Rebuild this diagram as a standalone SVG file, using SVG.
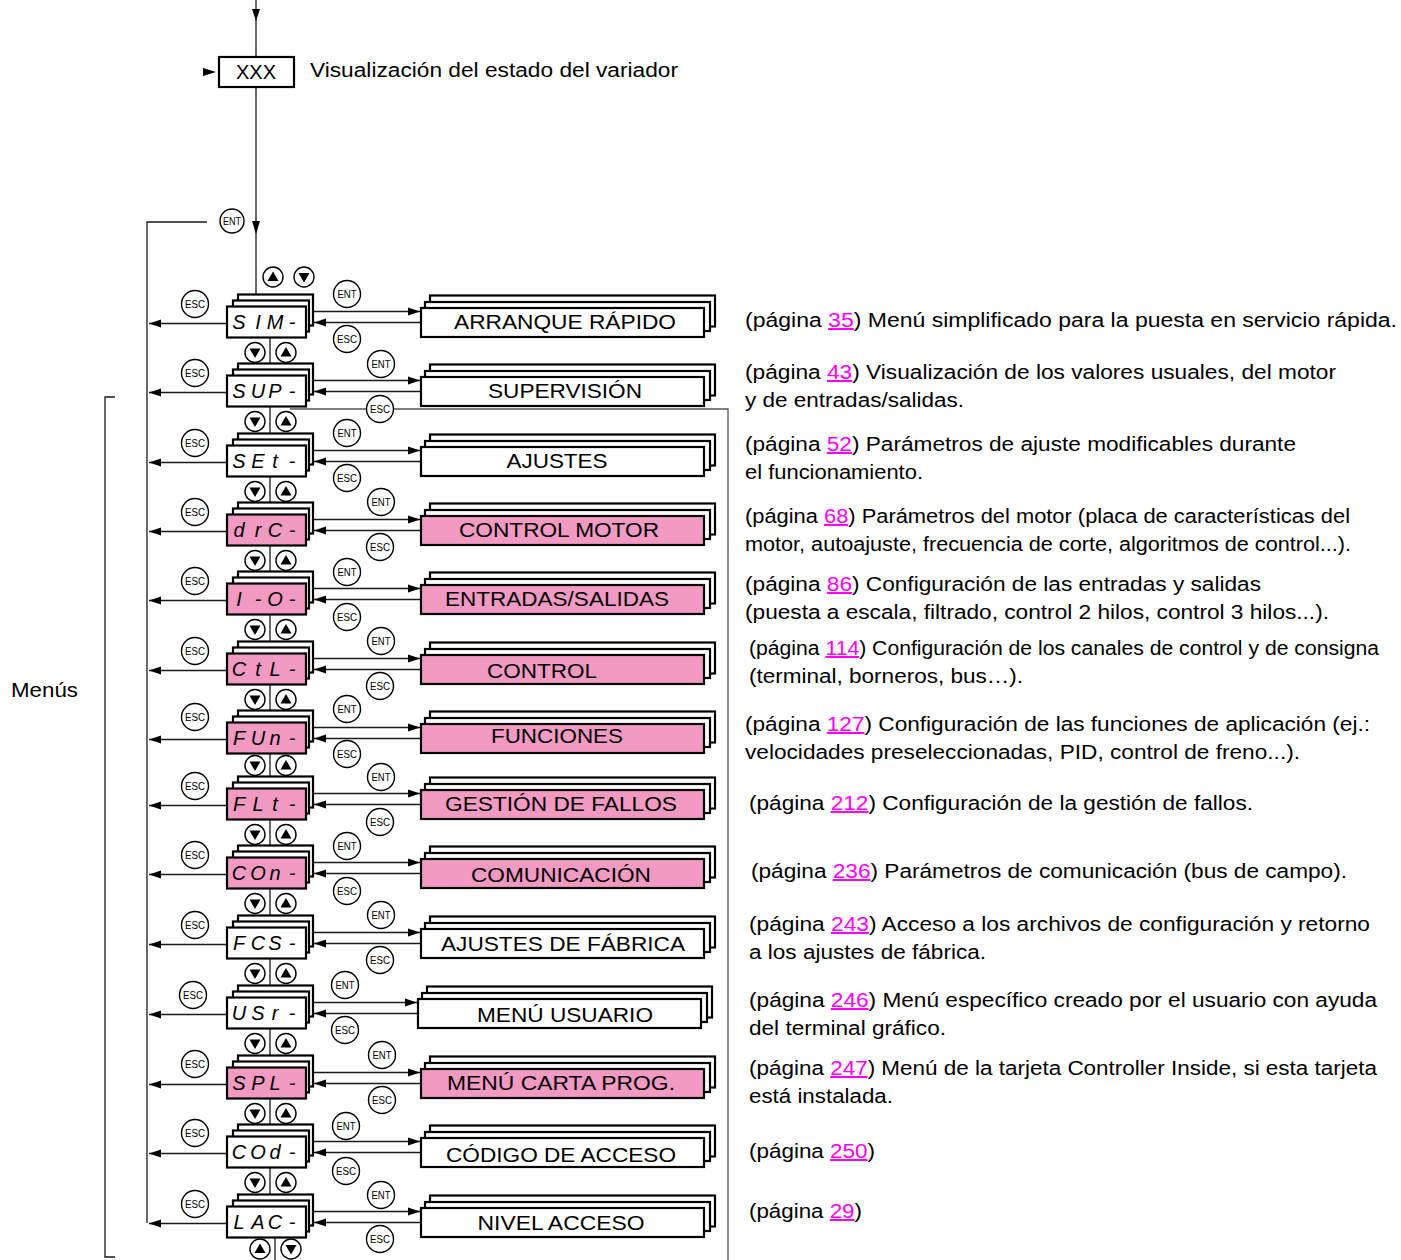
<svg xmlns="http://www.w3.org/2000/svg" width="1401" height="1260" viewBox="0 0 1401 1260">
<style>
.bx{fill:#fff;stroke:#000;stroke-width:2.2}
.pk{fill:#F39AC2;stroke:#000;stroke-width:2.2}
.ln{fill:none;stroke:#1a1a1a;stroke-width:1.3}
.lg{fill:none;stroke:#555;stroke-width:1.3}
.bt{fill:#fff;stroke:#000;stroke-width:1.4}
.bl{font-family:"Liberation Sans",Arial,sans-serif;font-size:10.5px;text-anchor:middle}
.seg{font-family:"Liberation Sans",Arial,sans-serif;font-style:italic;font-size:20px;text-anchor:middle}
.mn{font-family:"Liberation Sans",Arial,sans-serif;font-size:21px;text-anchor:middle}
.tx{font-family:"Liberation Sans",Arial,sans-serif;font-size:20px}
.lk{fill:#f0f;text-decoration:underline}
</style>
<defs>
<marker id="ah" markerUnits="userSpaceOnUse" markerWidth="13" markerHeight="10" refX="12" refY="4.5" orient="auto"><path d="M0,0.5 L12,4.5 L0,8.5 z" fill="#000"/></marker>
<g id="up"><circle r="10" class="bt"/><path d="M0,-5.5 L-5.5,4 L5.5,4 z"/></g>
<g id="dn"><circle r="10" class="bt"/><path d="M0,5.5 L-5.5,-4 L5.5,-4 z"/></g>
</defs>

<g id="connectors">
<path class="ln" d="M256,0 V57 M256,87 V294.5"/>
<path d="M252,9 L260,9 L256,21 z"/>
<path d="M203,68 L216,72 L203,76 z"/>
<path d="M252,221 L260,221 L256,234 z"/>
<path class="ln" d="M207,222 H147 V1223"/>
<path class="lg" d="M290,409 H728 V1260"/>
<path class="ln" d="M115,397 H105 V1257 H115"/>
<path class="ln" d="M270,337.5V363.5 M270,406.5V433.5 M270,476.5V502.5 M270,545.5V571.5 M270,614.5V641.5 M270,684.5V710.5 M270,753.5V776.5 M270,819.5V845.5 M270,888.5V915.5 M270,958.5V985.5 M270,1028.5V1055.5 M270,1098.5V1124.5 M270,1167.5V1194.5 M275,1237.5V1260"/>
<g class="ln" marker-end="url(#ah)">
<line x1="313" y1="311.5" x2="420" y2="311.5"/><line x1="421" y1="322.5" x2="314" y2="322.5"/><line x1="227" y1="323.5" x2="149" y2="323.5"/>
<line x1="313" y1="380.5" x2="420" y2="380.5"/><line x1="421" y1="391.5" x2="314" y2="391.5"/><line x1="227" y1="392.5" x2="149" y2="392.5"/>
<line x1="313" y1="450.5" x2="420" y2="450.5"/><line x1="421" y1="461.5" x2="314" y2="461.5"/><line x1="227" y1="462.5" x2="149" y2="462.5"/>
<line x1="313" y1="519.5" x2="420" y2="519.5"/><line x1="421" y1="530.5" x2="314" y2="530.5"/><line x1="227" y1="531.5" x2="149" y2="531.5"/>
<line x1="313" y1="588.5" x2="420" y2="588.5"/><line x1="421" y1="599.5" x2="314" y2="599.5"/><line x1="227" y1="600.5" x2="149" y2="600.5"/>
<line x1="313" y1="658.5" x2="420" y2="658.5"/><line x1="421" y1="669.5" x2="314" y2="669.5"/><line x1="227" y1="670.5" x2="149" y2="670.5"/>
<line x1="313" y1="727.5" x2="420" y2="727.5"/><line x1="421" y1="738.5" x2="314" y2="738.5"/><line x1="227" y1="739.5" x2="149" y2="739.5"/>
<line x1="313" y1="793.5" x2="420" y2="793.5"/><line x1="421" y1="804.5" x2="314" y2="804.5"/><line x1="227" y1="805.5" x2="149" y2="805.5"/>
<line x1="313" y1="862.5" x2="420" y2="862.5"/><line x1="421" y1="873.5" x2="314" y2="873.5"/><line x1="227" y1="874.5" x2="149" y2="874.5"/>
<line x1="313" y1="932.5" x2="420" y2="932.5"/><line x1="421" y1="943.5" x2="314" y2="943.5"/><line x1="227" y1="944.5" x2="149" y2="944.5"/>
<line x1="313" y1="1002.5" x2="417" y2="1002.5"/><line x1="418" y1="1013.5" x2="314" y2="1013.5"/><line x1="227" y1="1014.5" x2="149" y2="1014.5"/>
<line x1="313" y1="1072.5" x2="420" y2="1072.5"/><line x1="421" y1="1083.5" x2="314" y2="1083.5"/><line x1="227" y1="1084.5" x2="149" y2="1084.5"/>
<line x1="313" y1="1141.5" x2="420" y2="1141.5"/><line x1="421" y1="1152.5" x2="314" y2="1152.5"/><line x1="227" y1="1153.5" x2="149" y2="1153.5"/>
<line x1="313" y1="1211.5" x2="420" y2="1211.5"/><line x1="421" y1="1222.5" x2="314" y2="1222.5"/><line x1="227" y1="1223.5" x2="149" y2="1223.5"/>
</g>
</g>

<g id="buttons">
<circle cx="232" cy="221" r="12" class="bt"/><text x="232" y="224.5" class="bl" textLength="18" lengthAdjust="spacingAndGlyphs">ENT</text>
<use href="#up" x="273" y="277"/><use href="#dn" x="304" y="277"/>
<use href="#dn" x="255" y="352.5"/><use href="#up" x="286" y="352.5"/>
<use href="#dn" x="255" y="421.5"/><use href="#up" x="286" y="421.5"/>
<use href="#dn" x="255" y="491.5"/><use href="#up" x="286" y="491.5"/>
<use href="#dn" x="255" y="560.5"/><use href="#up" x="286" y="560.5"/>
<use href="#dn" x="255" y="629.5"/><use href="#up" x="286" y="629.5"/>
<use href="#dn" x="255" y="699.5"/><use href="#up" x="286" y="699.5"/>
<use href="#dn" x="255" y="765.5"/><use href="#up" x="286" y="765.5"/>
<use href="#dn" x="255" y="834.5"/><use href="#up" x="286" y="834.5"/>
<use href="#dn" x="255" y="903.5"/><use href="#up" x="286" y="903.5"/>
<use href="#dn" x="255" y="973.5"/><use href="#up" x="286" y="973.5"/>
<use href="#dn" x="255" y="1043.5"/><use href="#up" x="286" y="1043.5"/>
<use href="#dn" x="255" y="1113.5"/><use href="#up" x="286" y="1113.5"/>
<use href="#dn" x="255" y="1182.5"/><use href="#up" x="286" y="1182.5"/>
<use href="#up" x="260" y="1249"/><use href="#dn" x="291" y="1249"/>
<g id="esc-left">
<circle cx="195" cy="304" r="13.5" class="bt"/><text x="195" y="307.5" class="bl" textLength="20" lengthAdjust="spacingAndGlyphs">ESC</text>
<circle cx="195" cy="373" r="13.5" class="bt"/><text x="195" y="376.5" class="bl" textLength="20" lengthAdjust="spacingAndGlyphs">ESC</text>
<circle cx="195" cy="443" r="13.5" class="bt"/><text x="195" y="446.5" class="bl" textLength="20" lengthAdjust="spacingAndGlyphs">ESC</text>
<circle cx="195" cy="512" r="13.5" class="bt"/><text x="195" y="515.5" class="bl" textLength="20" lengthAdjust="spacingAndGlyphs">ESC</text>
<circle cx="195" cy="581" r="13.5" class="bt"/><text x="195" y="584.5" class="bl" textLength="20" lengthAdjust="spacingAndGlyphs">ESC</text>
<circle cx="195" cy="651" r="13.5" class="bt"/><text x="195" y="654.5" class="bl" textLength="20" lengthAdjust="spacingAndGlyphs">ESC</text>
<circle cx="195" cy="717" r="13.5" class="bt"/><text x="195" y="720.5" class="bl" textLength="20" lengthAdjust="spacingAndGlyphs">ESC</text>
<circle cx="195" cy="786" r="13.5" class="bt"/><text x="195" y="789.5" class="bl" textLength="20" lengthAdjust="spacingAndGlyphs">ESC</text>
<circle cx="195" cy="855" r="13.5" class="bt"/><text x="195" y="858.5" class="bl" textLength="20" lengthAdjust="spacingAndGlyphs">ESC</text>
<circle cx="195" cy="925" r="13.5" class="bt"/><text x="195" y="928.5" class="bl" textLength="20" lengthAdjust="spacingAndGlyphs">ESC</text>
<circle cx="193" cy="995" r="13.5" class="bt"/><text x="193" y="998.5" class="bl" textLength="20" lengthAdjust="spacingAndGlyphs">ESC</text>
<circle cx="195" cy="1064" r="13.5" class="bt"/><text x="195" y="1067.5" class="bl" textLength="20" lengthAdjust="spacingAndGlyphs">ESC</text>
<circle cx="195" cy="1133" r="13.5" class="bt"/><text x="195" y="1136.5" class="bl" textLength="20" lengthAdjust="spacingAndGlyphs">ESC</text>
<circle cx="195" cy="1204" r="13.5" class="bt"/><text x="195" y="1207.5" class="bl" textLength="20" lengthAdjust="spacingAndGlyphs">ESC</text>
</g>
<g id="ent-esc-right">
<circle cx="347" cy="294" r="13.5" class="bt"/><text x="347" y="297.5" class="bl" textLength="19" lengthAdjust="spacingAndGlyphs">ENT</text><circle cx="347" cy="339" r="13.5" class="bt"/><text x="347" y="342.5" class="bl" textLength="20" lengthAdjust="spacingAndGlyphs">ESC</text>
<circle cx="381" cy="364" r="13.5" class="bt"/><text x="381" y="367.5" class="bl" textLength="19" lengthAdjust="spacingAndGlyphs">ENT</text><circle cx="380" cy="409" r="13.5" class="bt"/><text x="380" y="412.5" class="bl" textLength="20" lengthAdjust="spacingAndGlyphs">ESC</text>
<circle cx="347" cy="433" r="13.5" class="bt"/><text x="347" y="436.5" class="bl" textLength="19" lengthAdjust="spacingAndGlyphs">ENT</text><circle cx="347" cy="478" r="13.5" class="bt"/><text x="347" y="481.5" class="bl" textLength="20" lengthAdjust="spacingAndGlyphs">ESC</text>
<circle cx="381" cy="502" r="13.5" class="bt"/><text x="381" y="505.5" class="bl" textLength="19" lengthAdjust="spacingAndGlyphs">ENT</text><circle cx="380" cy="547" r="13.5" class="bt"/><text x="380" y="550.5" class="bl" textLength="20" lengthAdjust="spacingAndGlyphs">ESC</text>
<circle cx="347" cy="572" r="13.5" class="bt"/><text x="347" y="575.5" class="bl" textLength="19" lengthAdjust="spacingAndGlyphs">ENT</text><circle cx="347" cy="617" r="13.5" class="bt"/><text x="347" y="620.5" class="bl" textLength="20" lengthAdjust="spacingAndGlyphs">ESC</text>
<circle cx="381" cy="641" r="13.5" class="bt"/><text x="381" y="644.5" class="bl" textLength="19" lengthAdjust="spacingAndGlyphs">ENT</text><circle cx="380" cy="686" r="13.5" class="bt"/><text x="380" y="689.5" class="bl" textLength="20" lengthAdjust="spacingAndGlyphs">ESC</text>
<circle cx="347" cy="709" r="13.5" class="bt"/><text x="347" y="712.5" class="bl" textLength="19" lengthAdjust="spacingAndGlyphs">ENT</text><circle cx="347" cy="754" r="13.5" class="bt"/><text x="347" y="757.5" class="bl" textLength="20" lengthAdjust="spacingAndGlyphs">ESC</text>
<circle cx="381" cy="777" r="13.5" class="bt"/><text x="381" y="780.5" class="bl" textLength="19" lengthAdjust="spacingAndGlyphs">ENT</text><circle cx="380" cy="822" r="13.5" class="bt"/><text x="380" y="825.5" class="bl" textLength="20" lengthAdjust="spacingAndGlyphs">ESC</text>
<circle cx="347" cy="846" r="13.5" class="bt"/><text x="347" y="849.5" class="bl" textLength="19" lengthAdjust="spacingAndGlyphs">ENT</text><circle cx="347" cy="891" r="13.5" class="bt"/><text x="347" y="894.5" class="bl" textLength="20" lengthAdjust="spacingAndGlyphs">ESC</text>
<circle cx="381" cy="915" r="13.5" class="bt"/><text x="381" y="918.5" class="bl" textLength="19" lengthAdjust="spacingAndGlyphs">ENT</text><circle cx="380" cy="960" r="13.5" class="bt"/><text x="380" y="963.5" class="bl" textLength="20" lengthAdjust="spacingAndGlyphs">ESC</text>
<circle cx="345" cy="985" r="13.5" class="bt"/><text x="345" y="988.5" class="bl" textLength="19" lengthAdjust="spacingAndGlyphs">ENT</text><circle cx="345" cy="1030" r="13.5" class="bt"/><text x="345" y="1033.5" class="bl" textLength="20" lengthAdjust="spacingAndGlyphs">ESC</text>
<circle cx="382" cy="1055" r="13.5" class="bt"/><text x="382" y="1058.5" class="bl" textLength="19" lengthAdjust="spacingAndGlyphs">ENT</text><circle cx="382" cy="1100" r="13.5" class="bt"/><text x="382" y="1103.5" class="bl" textLength="20" lengthAdjust="spacingAndGlyphs">ESC</text>
<circle cx="346" cy="1126" r="13.5" class="bt"/><text x="346" y="1129.5" class="bl" textLength="19" lengthAdjust="spacingAndGlyphs">ENT</text><circle cx="346" cy="1171" r="13.5" class="bt"/><text x="346" y="1174.5" class="bl" textLength="20" lengthAdjust="spacingAndGlyphs">ESC</text>
<circle cx="381" cy="1195" r="13.5" class="bt"/><text x="381" y="1198.5" class="bl" textLength="19" lengthAdjust="spacingAndGlyphs">ENT</text><circle cx="380" cy="1239" r="13.5" class="bt"/><text x="380" y="1242.5" class="bl" textLength="20" lengthAdjust="spacingAndGlyphs">ESC</text>
</g>
</g>

<g id="xxx"><rect x="219" y="57" width="75" height="30" class="bx"/><text x="256" y="79" class="tx" text-anchor="middle">XXX</text></g>
<text x="310" y="77" class="tx" textLength="368" lengthAdjust="spacingAndGlyphs">Visualización del estado del variador</text>
<text x="11" y="697" class="tx" textLength="67" lengthAdjust="spacingAndGlyphs">Menús</text>

<g id="d1"><rect x="238" y="294.5" width="75" height="31" class="bx"/><rect x="233" y="300.5" width="76" height="31" class="bx"/><rect x="227" y="306.5" width="79" height="31" class="bx"/><text x="239 258 275 292" y="329" class="seg">SIM-</text></g>
<g id="d2"><rect x="238" y="363.5" width="75" height="31" class="bx"/><rect x="233" y="369.5" width="76" height="31" class="bx"/><rect x="227" y="375.5" width="79" height="31" class="bx"/><text x="239 258 275 292" y="398" class="seg">SUP-</text></g>
<g id="d3"><rect x="238" y="433.5" width="75" height="31" class="bx"/><rect x="233" y="439.5" width="76" height="31" class="bx"/><rect x="227" y="445.5" width="79" height="31" class="bx"/><text x="239 258 275 292" y="468" class="seg">SEt-</text></g>
<g id="d4"><rect x="238" y="502.5" width="75" height="31" class="bx"/><rect x="233" y="508.5" width="76" height="31" class="bx"/><rect x="227" y="514.5" width="79" height="31" class="pk"/><text x="239 258 275 292" y="537" class="seg">drC-</text></g>
<g id="d5"><rect x="238" y="571.5" width="75" height="31" class="bx"/><rect x="233" y="577.5" width="76" height="31" class="bx"/><rect x="227" y="583.5" width="79" height="31" class="pk"/><text x="239 258 275 292" y="606" class="seg">I-O-</text></g>
<g id="d6"><rect x="238" y="641.5" width="75" height="31" class="bx"/><rect x="233" y="647.5" width="76" height="31" class="bx"/><rect x="227" y="653.5" width="79" height="31" class="pk"/><text x="239 258 275 292" y="676" class="seg">CtL-</text></g>
<g id="d7"><rect x="238" y="710.5" width="75" height="31" class="bx"/><rect x="233" y="716.5" width="76" height="31" class="bx"/><rect x="227" y="722.5" width="79" height="31" class="pk"/><text x="239 258 275 292" y="745" class="seg">FUn-</text></g>
<g id="d8"><rect x="238" y="776.5" width="75" height="31" class="bx"/><rect x="233" y="782.5" width="76" height="31" class="bx"/><rect x="227" y="788.5" width="79" height="31" class="pk"/><text x="239 258 275 292" y="811" class="seg">FLt-</text></g>
<g id="d9"><rect x="238" y="845.5" width="75" height="31" class="bx"/><rect x="233" y="851.5" width="76" height="31" class="bx"/><rect x="227" y="857.5" width="79" height="31" class="pk"/><text x="239 258 275 292" y="880" class="seg">COn-</text></g>
<g id="d10"><rect x="238" y="915.5" width="75" height="31" class="bx"/><rect x="233" y="921.5" width="76" height="31" class="bx"/><rect x="227" y="927.5" width="79" height="31" class="bx"/><text x="239 258 275 292" y="950" class="seg">FCS-</text></g>
<g id="d11"><rect x="238" y="985.5" width="75" height="31" class="bx"/><rect x="233" y="991.5" width="76" height="31" class="bx"/><rect x="227" y="997.5" width="79" height="31" class="bx"/><text x="239 258 275 292" y="1020" class="seg">USr-</text></g>
<g id="d12"><rect x="238" y="1055.5" width="75" height="31" class="bx"/><rect x="233" y="1061.5" width="76" height="31" class="bx"/><rect x="227" y="1067.5" width="79" height="31" class="pk"/><text x="239 258 275 292" y="1090" class="seg">SPL-</text></g>
<g id="d13"><rect x="238" y="1124.5" width="75" height="31" class="bx"/><rect x="233" y="1130.5" width="76" height="31" class="bx"/><rect x="227" y="1136.5" width="79" height="31" class="bx"/><text x="239 258 275 292" y="1159" class="seg">COd-</text></g>
<g id="d14"><rect x="238" y="1194.5" width="75" height="31" class="bx"/><rect x="233" y="1200.5" width="76" height="31" class="bx"/><rect x="227" y="1206.5" width="79" height="31" class="bx"/><text x="239 258 275 292" y="1229" class="seg">LAC-</text></g>

<g id="m1"><rect x="430" y="295.5" width="285" height="31" class="bx"/><rect x="425" y="302" width="285" height="29" class="bx"/><rect x="421" y="308" width="283" height="29" class="bx"/><text x="565" y="329" class="mn" textLength="222" lengthAdjust="spacingAndGlyphs">ARRANQUE RÁPIDO</text></g>
<g id="m2"><rect x="430" y="364.5" width="285" height="31" class="bx"/><rect x="425" y="371" width="285" height="29" class="bx"/><rect x="421" y="377" width="283" height="29" class="bx"/><text x="565" y="398" class="mn" textLength="154" lengthAdjust="spacingAndGlyphs">SUPERVISIÓN</text></g>
<g id="m3"><rect x="430" y="434.5" width="285" height="31" class="bx"/><rect x="425" y="441" width="285" height="29" class="bx"/><rect x="421" y="447" width="283" height="29" class="bx"/><text x="557" y="468" class="mn" textLength="101" lengthAdjust="spacingAndGlyphs">AJUSTES</text></g>
<g id="m4"><rect x="430" y="503.5" width="285" height="31" class="bx"/><rect x="425" y="510" width="285" height="29" class="bx"/><rect x="421" y="516" width="283" height="29" class="pk"/><text x="559" y="537" class="mn" textLength="200" lengthAdjust="spacingAndGlyphs">CONTROL MOTOR</text></g>
<g id="m5"><rect x="430" y="572.5" width="285" height="31" class="bx"/><rect x="425" y="579" width="285" height="29" class="bx"/><rect x="421" y="585" width="283" height="29" class="pk"/><text x="557" y="606" class="mn" textLength="224" lengthAdjust="spacingAndGlyphs">ENTRADAS/SALIDAS</text></g>
<g id="m6"><rect x="430" y="642.5" width="285" height="31" class="bx"/><rect x="425" y="649" width="285" height="29" class="bx"/><rect x="421" y="655" width="283" height="29" class="pk"/><text x="542" y="678" class="mn" textLength="110" lengthAdjust="spacingAndGlyphs">CONTROL</text></g>
<g id="m7"><rect x="430" y="711.5" width="285" height="31" class="bx"/><rect x="425" y="718" width="285" height="29" class="bx"/><rect x="421" y="724" width="283" height="29" class="pk"/><text x="557" y="743" class="mn" textLength="132" lengthAdjust="spacingAndGlyphs">FUNCIONES</text></g>
<g id="m8"><rect x="430" y="777.5" width="285" height="31" class="bx"/><rect x="425" y="784" width="285" height="29" class="bx"/><rect x="421" y="790" width="283" height="29" class="pk"/><text x="561" y="811" class="mn" textLength="232" lengthAdjust="spacingAndGlyphs">GESTIÓN DE FALLOS</text></g>
<g id="m9"><rect x="430" y="846.5" width="285" height="31" class="bx"/><rect x="425" y="853" width="285" height="29" class="bx"/><rect x="421" y="859" width="283" height="29" class="pk"/><text x="561" y="882" class="mn" textLength="180" lengthAdjust="spacingAndGlyphs">COMUNICACIÓN</text></g>
<g id="m10"><rect x="430" y="916.5" width="285" height="31" class="bx"/><rect x="425" y="923" width="285" height="29" class="bx"/><rect x="421" y="929" width="283" height="29" class="bx"/><text x="563" y="951" class="mn" textLength="244" lengthAdjust="spacingAndGlyphs">AJUSTES DE FÁBRICA</text></g>
<g id="m11"><rect x="427" y="986.5" width="285" height="31" class="bx"/><rect x="422" y="993" width="285" height="29" class="bx"/><rect x="418" y="999" width="283" height="29" class="bx"/><text x="565" y="1022" class="mn" textLength="176" lengthAdjust="spacingAndGlyphs">MENÚ USUARIO</text></g>
<g id="m12"><rect x="430" y="1056.5" width="285" height="31" class="bx"/><rect x="425" y="1063" width="285" height="29" class="bx"/><rect x="421" y="1069" width="283" height="29" class="pk"/><text x="561" y="1090" class="mn" textLength="228" lengthAdjust="spacingAndGlyphs">MENÚ CARTA PROG.</text></g>
<g id="m13"><rect x="430" y="1125.5" width="285" height="31" class="bx"/><rect x="425" y="1132" width="285" height="29" class="bx"/><rect x="421" y="1138" width="283" height="29" class="bx"/><text x="561" y="1162" class="mn" textLength="230" lengthAdjust="spacingAndGlyphs">CÓDIGO DE ACCESO</text></g>
<g id="m14"><rect x="430" y="1195.5" width="285" height="31" class="bx"/><rect x="425" y="1202" width="285" height="29" class="bx"/><rect x="421" y="1208" width="283" height="29" class="bx"/><text x="561" y="1230" class="mn" textLength="167" lengthAdjust="spacingAndGlyphs">NIVEL ACCESO</text></g>

<g id="descriptions" class="tx">
<text x="745" y="327" textLength="652" lengthAdjust="spacingAndGlyphs">(página <tspan class="lk">35</tspan>) Menú simplificado para la puesta en servicio rápida.</text>
<text x="745" y="379" textLength="591" lengthAdjust="spacingAndGlyphs">(página <tspan class="lk">43</tspan>) Visualización de los valores usuales, del motor</text>
<text x="745" y="407" textLength="219" lengthAdjust="spacingAndGlyphs">y de entradas/salidas.</text>
<text x="745" y="451" textLength="551" lengthAdjust="spacingAndGlyphs">(página <tspan class="lk">52</tspan>) Parámetros de ajuste modificables durante</text>
<text x="745" y="479" textLength="178" lengthAdjust="spacingAndGlyphs">el funcionamiento.</text>
<text x="745" y="523" textLength="605" lengthAdjust="spacingAndGlyphs">(página <tspan class="lk">68</tspan>) Parámetros del motor (placa de características del</text>
<text x="745" y="551" textLength="606" lengthAdjust="spacingAndGlyphs">motor, autoajuste, frecuencia de corte, algoritmos de control...).</text>
<text x="745" y="591" textLength="516" lengthAdjust="spacingAndGlyphs">(página <tspan class="lk">86</tspan>) Configuración de las entradas y salidas</text>
<text x="745" y="619" textLength="584" lengthAdjust="spacingAndGlyphs">(puesta a escala, filtrado, control 2 hilos, control 3 hilos...).</text>
<text x="749" y="655" textLength="630" lengthAdjust="spacingAndGlyphs">(página <tspan class="lk">114</tspan>) Configuración de los canales de control y de consigna</text>
<text x="749" y="683" textLength="274" lengthAdjust="spacingAndGlyphs">(terminal, borneros, bus…).</text>
<text x="745" y="731" textLength="625" lengthAdjust="spacingAndGlyphs">(página <tspan class="lk">127</tspan>) Configuración de las funciones de aplicación (ej.:</text>
<text x="745" y="759" textLength="555" lengthAdjust="spacingAndGlyphs">velocidades preseleccionadas, PID, control de freno...).</text>
<text x="749" y="810" textLength="504" lengthAdjust="spacingAndGlyphs">(página <tspan class="lk">212</tspan>) Configuración de la gestión de fallos.</text>
<text x="751" y="878" textLength="596" lengthAdjust="spacingAndGlyphs">(página <tspan class="lk">236</tspan>) Parámetros de comunicación (bus de campo).</text>
<text x="749" y="931" textLength="621" lengthAdjust="spacingAndGlyphs">(página <tspan class="lk">243</tspan>) Acceso a los archivos de configuración y retorno</text>
<text x="749" y="959" textLength="237" lengthAdjust="spacingAndGlyphs">a los ajustes de fábrica.</text>
<text x="749" y="1007" textLength="628" lengthAdjust="spacingAndGlyphs">(página <tspan class="lk">246</tspan>) Menú específico creado por el usuario con ayuda</text>
<text x="749" y="1035" textLength="197" lengthAdjust="spacingAndGlyphs">del terminal gráfico.</text>
<text x="749" y="1075" textLength="628" lengthAdjust="spacingAndGlyphs">(página <tspan class="lk">247</tspan>) Menú de la tarjeta Controller Inside, si esta tarjeta</text>
<text x="749" y="1103" textLength="144" lengthAdjust="spacingAndGlyphs">está instalada.</text>
<text x="749" y="1158" textLength="126" lengthAdjust="spacingAndGlyphs">(página <tspan class="lk">250</tspan>)</text>
<text x="749" y="1218" textLength="113" lengthAdjust="spacingAndGlyphs">(página <tspan class="lk">29</tspan>)</text>
</g>
</svg>
